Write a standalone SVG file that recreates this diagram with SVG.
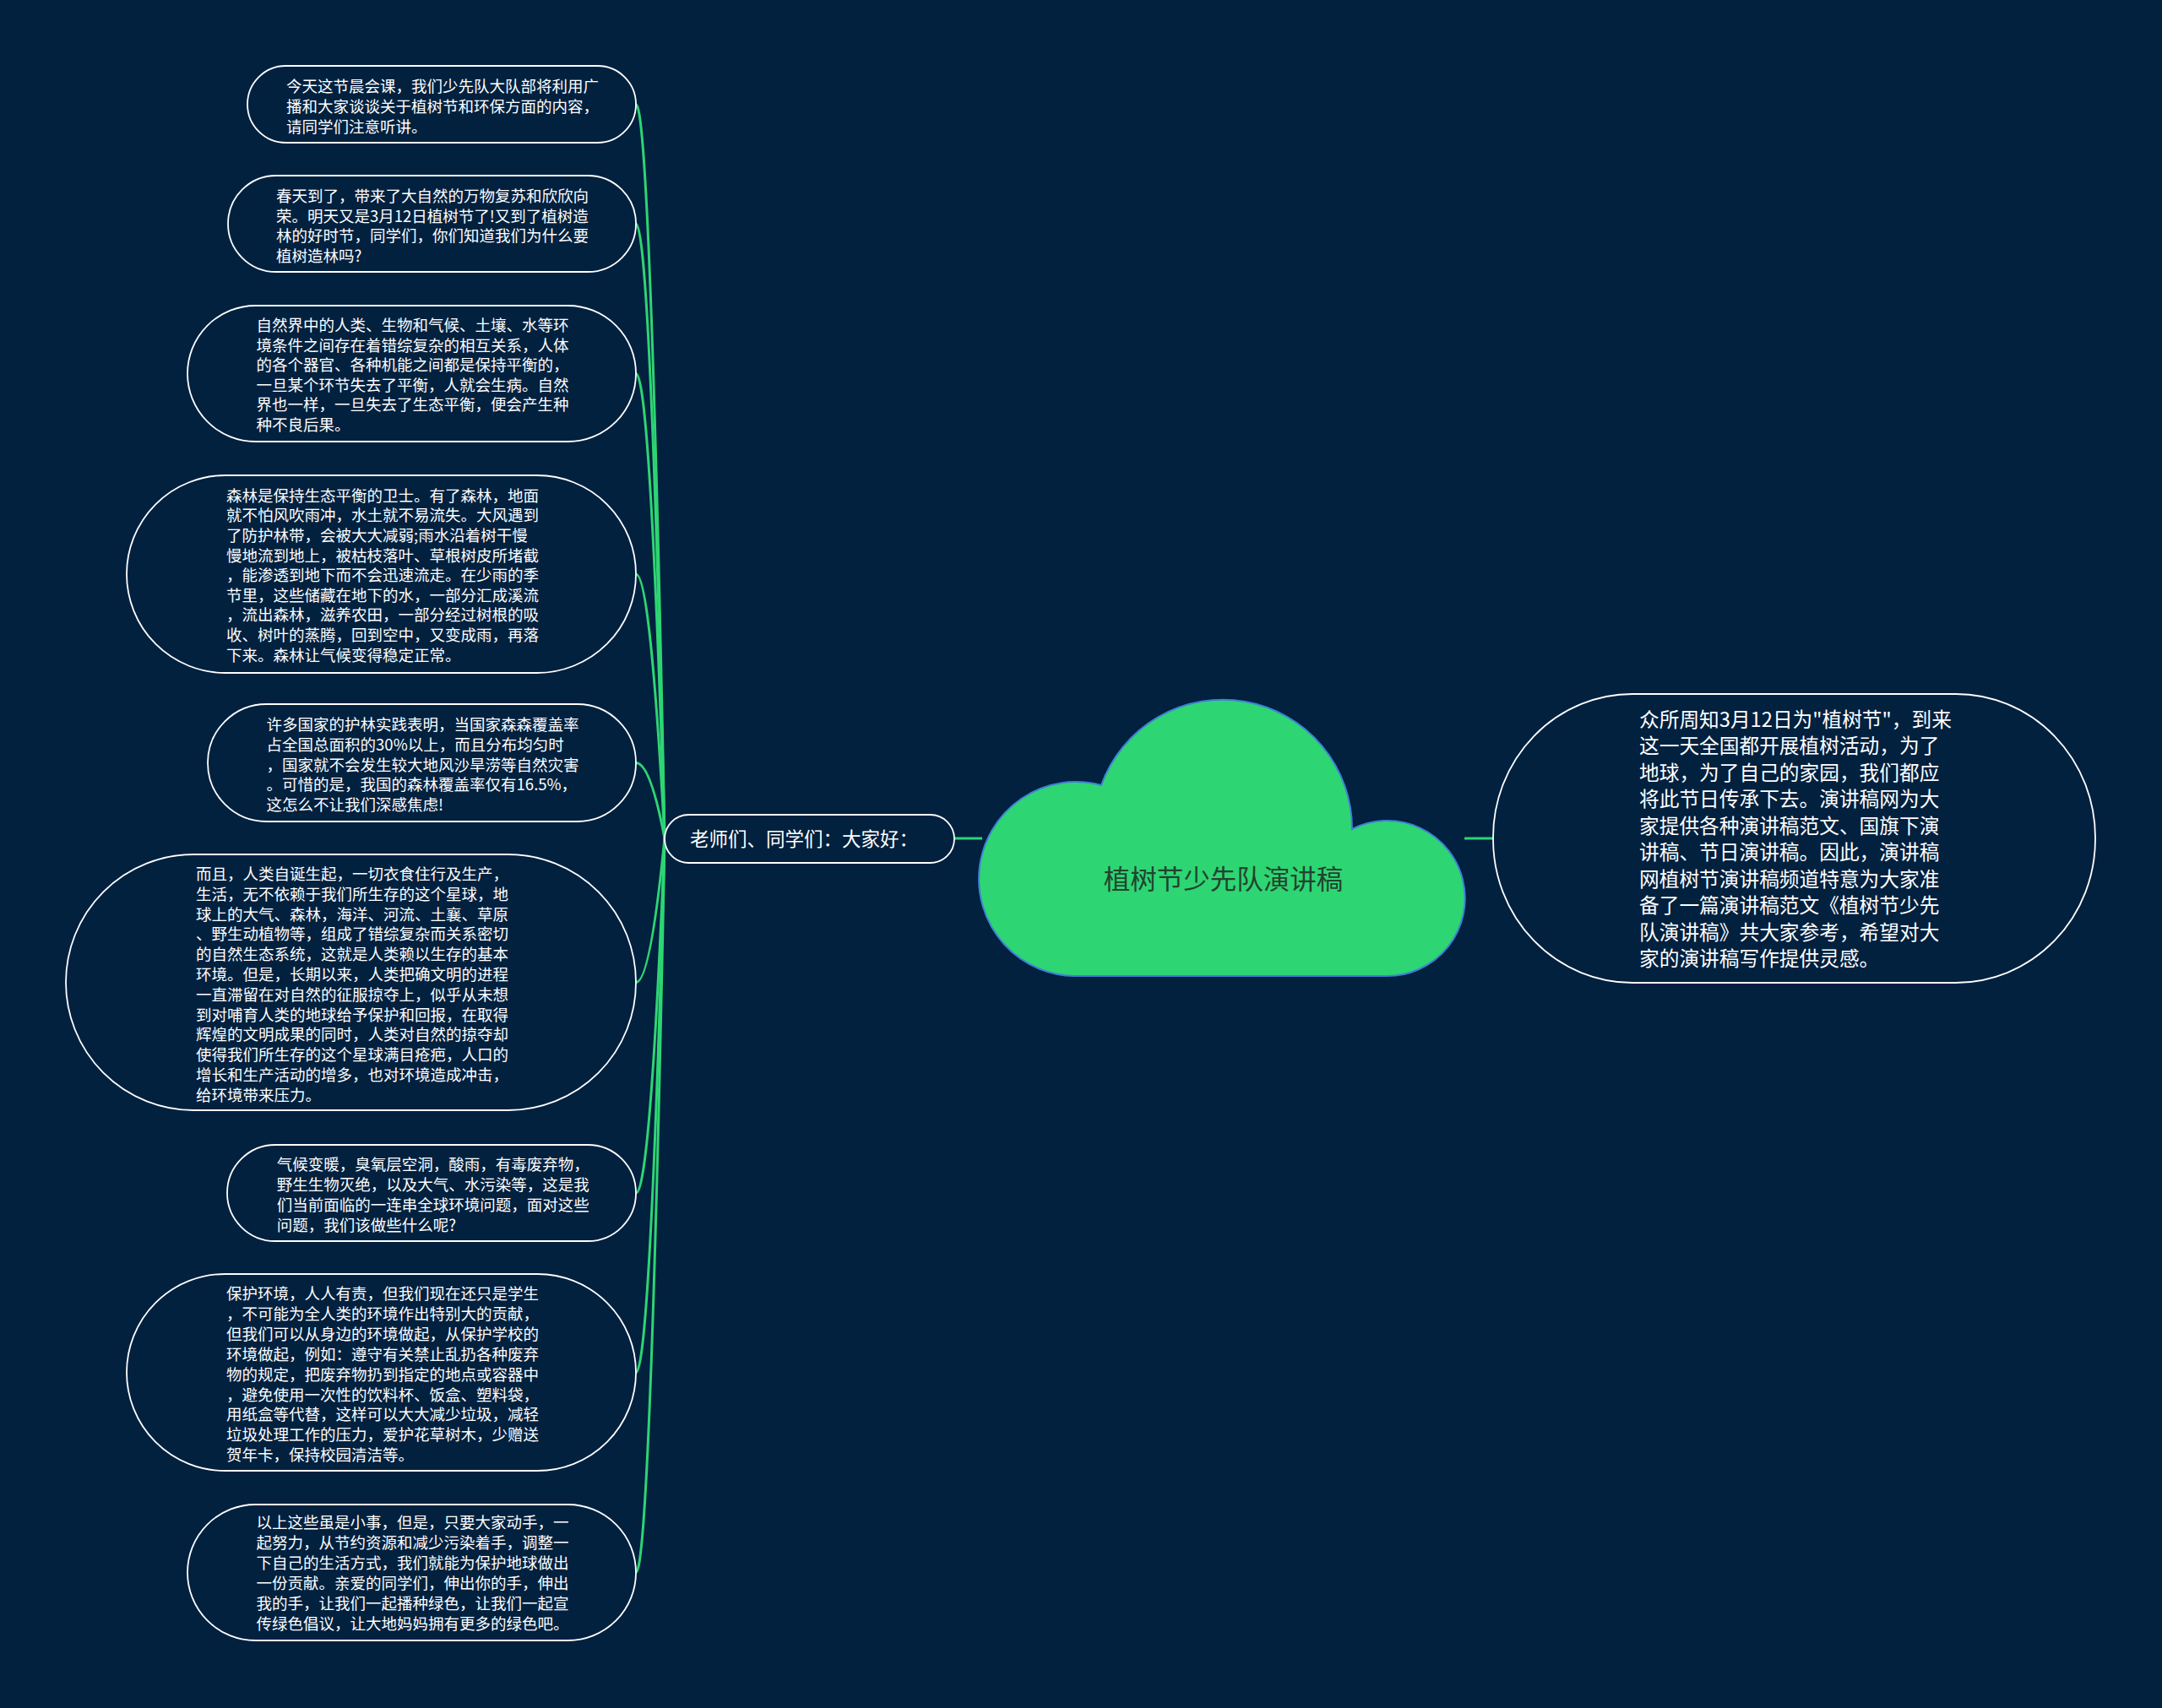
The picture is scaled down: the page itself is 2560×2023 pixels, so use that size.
<svg xmlns="http://www.w3.org/2000/svg" width="2560" height="2023" viewBox="0 0 2560 2023">
<style>
.bg{fill:#02213f}
.box{fill:#02213f;stroke:#ffffff;stroke-width:1.8}
.t{font-family:"Noto Sans CJK SC","Noto Sans",sans-serif;font-size:18.5px;fill:#ffffff}
.tr{font-family:"Noto Sans CJK SC","Noto Sans",sans-serif;font-size:23.7px;fill:#ffffff}
.tm{font-family:"Noto Sans CJK SC","Noto Sans",sans-serif;font-size:22.5px;fill:#ffffff}
.troot{font-family:"Noto Sans CJK SC","Noto Sans",sans-serif;font-size:31.5px;fill:#22432f}
.cloud{fill:#2ed573;stroke:#3f7fd6;stroke-width:2}
.c{fill:none;stroke:#2ed573;stroke-width:3}
</style>
<rect class="bg" x="0" y="0" width="2560" height="2023"/>
<g id="connectors">
<path class="c" d="M1130 993 L1163 993"/>
<path class="c" d="M1734 993 L1768 993"/>
<path class="c" d="M753 123.5 Q770 123.5 787 993"/>
<path class="c" d="M753 265 Q770 265 787 993"/>
<path class="c" d="M753 442.5 Q770 442.5 787 993"/>
<path class="c" d="M753 680 Q770 680 787 993"/>
<path class="c" d="M753 903.5 Q770 903.5 787 993"/>
<path class="c" d="M753 1163.5 Q770 1163.5 787 993"/>
<path class="c" d="M753 1413 Q770 1413 787 993"/>
<path class="c" d="M753 1625.5 Q770 1625.5 787 993"/>
<path class="c" d="M753 1862.5 Q770 1862.5 787 993"/>
</g>
<g id="root">
<path class="cloud" d="M1277 1156 A115 115 0 1 1 1304 930 A153 153 0 0 1 1601 982 A92 92 0 1 1 1642 1156 Z"/>
<text class="troot" x="1448.5" y="1053" text-anchor="middle">植树节少先队演讲稿</text>
</g>
<g id="intro">
<rect class="box" x="1768" y="822" width="713" height="342" rx="165" ry="170"/>
<text class="tr" x="1941" y="860.7"><tspan x="1941">众所周知3月12日为"植树节"，到来</tspan><tspan x="1941" dy="31.5">这一天全国都开展植树活动，为了</tspan><tspan x="1941" dy="31.5">地球，为了自己的家园，我们都应</tspan><tspan x="1941" dy="31.5">将此节日传承下去。演讲稿网为大</tspan><tspan x="1941" dy="31.5">家提供各种演讲稿范文、国旗下演</tspan><tspan x="1941" dy="31.5">讲稿、节日演讲稿。因此，演讲稿</tspan><tspan x="1941" dy="31.5">网植树节演讲稿频道特意为大家准</tspan><tspan x="1941" dy="31.5">备了一篇演讲稿范文《植树节少先</tspan><tspan x="1941" dy="31.5">队演讲稿》共大家参考，希望对大</tspan><tspan x="1941" dy="31.5">家的演讲稿写作提供灵感。</tspan></text>
</g>
<g id="greeting">
<rect class="box" x="787" y="965" width="343" height="57" rx="28.5"/>
<text class="tm" x="817" y="1001.5">老师们、同学们：大家好：</text>
</g>
<g id="n1">
<rect class="box" x="293" y="78" width="460" height="91" rx="45.5"/>
<text class="t" x="339" y="109"><tspan x="339">今天这节晨会课，我们少先队大队部将利用广</tspan><tspan x="339" dy="24">播和大家谈谈关于植树节和环保方面的内容，</tspan><tspan x="339" dy="24">请同学们注意听讲。</tspan></text>
</g>
<g id="n2">
<rect class="box" x="270" y="208" width="483" height="114" rx="57"/>
<text class="t" x="327" y="239"><tspan x="327">春天到了，带来了大自然的万物复苏和欣欣向</tspan><tspan x="327" dy="23.6">荣。明天又是3月12日植树节了!又到了植树造</tspan><tspan x="327" dy="23.6">林的好时节，同学们，你们知道我们为什么要</tspan><tspan x="327" dy="23.6">植树造林吗?</tspan></text>
</g>
<g id="n3">
<rect class="box" x="222" y="362" width="531" height="161" rx="80.5"/>
<text class="t" x="303.5" y="392"><tspan x="303.5">自然界中的人类、生物和气候、土壤、水等环</tspan><tspan x="303.5" dy="23.6">境条件之间存在着错综复杂的相互关系，人体</tspan><tspan x="303.5" dy="23.6">的各个器官、各种机能之间都是保持平衡的，</tspan><tspan x="303.5" dy="23.6">一旦某个环节失去了平衡，人就会生病。自然</tspan><tspan x="303.5" dy="23.6">界也一样，一旦失去了生态平衡，便会产生种</tspan><tspan x="303.5" dy="23.6">种不良后果。</tspan></text>
</g>
<g id="n4">
<rect class="box" x="150" y="563" width="603" height="234" rx="117"/>
<text class="t" x="268" y="593.7"><tspan x="268">森林是保持生态平衡的卫士。有了森林，地面</tspan><tspan x="268" dy="23.6">就不怕风吹雨冲，水土就不易流失。大风遇到</tspan><tspan x="268" dy="23.6">了防护林带，会被大大减弱;雨水沿着树干慢</tspan><tspan x="268" dy="23.6">慢地流到地上，被枯枝落叶、草根树皮所堵截</tspan><tspan x="268" dy="23.6">，能渗透到地下而不会迅速流走。在少雨的季</tspan><tspan x="268" dy="23.6">节里，这些储藏在地下的水，一部分汇成溪流</tspan><tspan x="268" dy="23.6">，流出森林，滋养农田，一部分经过树根的吸</tspan><tspan x="268" dy="23.6">收、树叶的蒸腾，回到空中，又变成雨，再落</tspan><tspan x="268" dy="23.6">下来。森林让气候变得稳定正常。</tspan></text>
</g>
<g id="n5">
<rect class="box" x="246" y="834" width="507" height="139" rx="69.5"/>
<text class="t" x="315.6" y="865"><tspan x="315.6">许多国家的护林实践表明，当国家森森覆盖率</tspan><tspan x="315.6" dy="23.75">占全国总面积的30%以上，而且分布均匀时</tspan><tspan x="315.6" dy="23.75">，国家就不会发生较大地风沙旱涝等自然灾害</tspan><tspan x="315.6" dy="23.75">。可惜的是，我国的森林覆盖率仅有16.5%，</tspan><tspan x="315.6" dy="23.75">这怎么不让我们深感焦虑!</tspan></text>
</g>
<g id="n6">
<rect class="box" x="78" y="1012" width="675" height="303" rx="151.5"/>
<text class="t" x="232" y="1042"><tspan x="232">而且，人类自诞生起，一切衣食住行及生产，</tspan><tspan x="232" dy="23.8">生活，无不依赖于我们所生存的这个星球，地</tspan><tspan x="232" dy="23.8">球上的大气、森林，海洋、河流、土襄、草原</tspan><tspan x="232" dy="23.8">、野生动植物等，组成了错综复杂而关系密切</tspan><tspan x="232" dy="23.8">的自然生态系统，这就是人类赖以生存的基本</tspan><tspan x="232" dy="23.8">环境。但是，长期以来，人类把确文明的进程</tspan><tspan x="232" dy="23.8">一直滞留在对自然的征服掠夺上，似乎从未想</tspan><tspan x="232" dy="23.8">到对哺育人类的地球给予保护和回报，在取得</tspan><tspan x="232" dy="23.8">辉煌的文明成果的同时，人类对自然的掠夺却</tspan><tspan x="232" dy="23.8">使得我们所生存的这个星球满目疮疤，人口的</tspan><tspan x="232" dy="23.8">增长和生产活动的增多，也对环境造成冲击，</tspan><tspan x="232" dy="23.8">给环境带来压力。</tspan></text>
</g>
<g id="n7">
<rect class="box" x="269" y="1356" width="484" height="114" rx="57"/>
<text class="t" x="327.7" y="1386"><tspan x="327.7">气候变暖，臭氧层空洞，酸雨，有毒废弃物，</tspan><tspan x="327.7" dy="24">野生生物灭绝，以及大气、水污染等，这是我</tspan><tspan x="327.7" dy="24">们当前面临的一连串全球环境问题，面对这些</tspan><tspan x="327.7" dy="24">问题，我们该做些什么呢?</tspan></text>
</g>
<g id="n8">
<rect class="box" x="150" y="1509" width="603" height="233" rx="116.5"/>
<text class="t" x="268" y="1539"><tspan x="268">保护环境，人人有责，但我们现在还只是学生</tspan><tspan x="268" dy="23.9">，不可能为全人类的环境作出特别大的贡献，</tspan><tspan x="268" dy="23.9">但我们可以从身边的环境做起，从保护学校的</tspan><tspan x="268" dy="23.9">环境做起，例如：遵守有关禁止乱扔各种废弃</tspan><tspan x="268" dy="23.9">物的规定，把废弃物扔到指定的地点或容器中</tspan><tspan x="268" dy="23.9">，避免使用一次性的饮料杯、饭盒、塑料袋，</tspan><tspan x="268" dy="23.9">用纸盒等代替，这样可以大大减少垃圾，减轻</tspan><tspan x="268" dy="23.9">垃圾处理工作的压力，爱护花草树木，少赠送</tspan><tspan x="268" dy="23.9">贺年卡，保持校园清洁等。</tspan></text>
</g>
<g id="n9">
<rect class="box" x="222" y="1782" width="531" height="161" rx="80.5"/>
<text class="t" x="303.6" y="1810"><tspan x="303.6">以上这些虽是小事，但是，只要大家动手，一</tspan><tspan x="303.6" dy="24">起努力，从节约资源和减少污染着手，调整一</tspan><tspan x="303.6" dy="24">下自己的生活方式，我们就能为保护地球做出</tspan><tspan x="303.6" dy="24">一份贡献。亲爱的同学们，伸出你的手，伸出</tspan><tspan x="303.6" dy="24">我的手，让我们一起播种绿色，让我们一起宣</tspan><tspan x="303.6" dy="24">传绿色倡议，让大地妈妈拥有更多的绿色吧。</tspan></text>
</g>
</svg>
